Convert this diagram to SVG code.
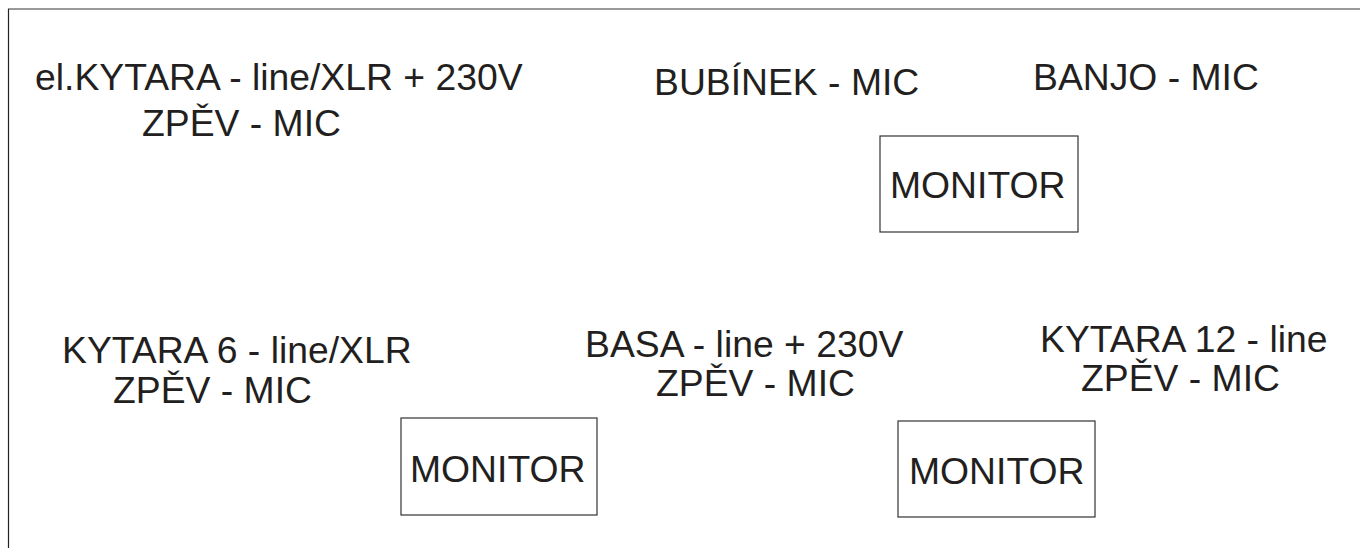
<svg xmlns="http://www.w3.org/2000/svg" width="1360" height="548" viewBox="0 0 1360 548">
<style>
text{font-family:"Liberation Sans",Arial,sans-serif;font-size:37.3px;fill:#231f20}
.box{fill:#fff;stroke:#333;stroke-width:1.2}
</style>
<rect width="1360" height="548" fill="#fff"/>
<g id="frame">
<line x1="8" y1="9" x2="1360" y2="9" stroke="#777" stroke-width="1.5"/>
<line x1="8.5" y1="9" x2="8.5" y2="548" stroke="#222" stroke-width="1.2"/>
</g>
<g id="connectors"/>
<g id="el-kytara">
<text x="35" y="90">el.KYTARA - line/XLR + 230V</text>
<text x="142" y="136">ZPĚV - MIC</text>
</g>
<g id="bubinek"><text x="654" y="95">BUBÍNEK - MIC</text></g>
<g id="banjo"><text x="1033" y="90">BANJO - MIC</text></g>
<g id="monitor1">
<rect class="box" x="880" y="136" width="198" height="96"/>
<text x="890" y="198">MONITOR</text>
</g>
<g id="kytara6">
<text x="62" y="363">KYTARA 6 - line/XLR</text>
<text x="113" y="403">ZPĚV - MIC</text>
</g>
<g id="basa">
<text x="585" y="357">BASA - line + 230V</text>
<text x="656" y="396">ZPĚV - MIC</text>
</g>
<g id="kytara12">
<text x="1040" y="352">KYTARA 12 - line</text>
<text x="1081" y="391">ZPĚV - MIC</text>
</g>
<g id="monitor2">
<rect class="box" x="401" y="418" width="196" height="97"/>
<text x="410" y="482">MONITOR</text>
</g>
<g id="monitor3">
<rect class="box" x="898" y="421" width="197" height="96"/>
<text x="909" y="484">MONITOR</text>
</g>
</svg>
